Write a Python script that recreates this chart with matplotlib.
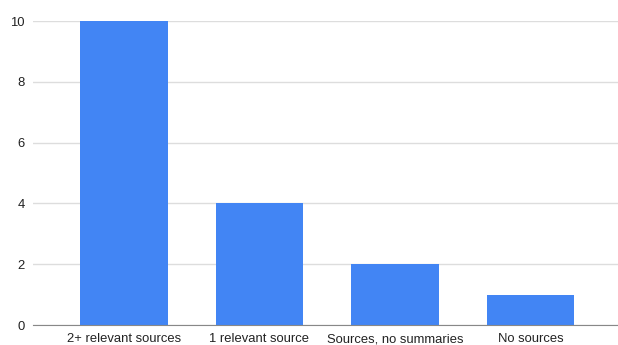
import matplotlib
matplotlib.use("Agg")
import matplotlib.pyplot as plt
import numpy as np

categories = ["2+ relevant sources", "1 relevant source", "Sources, no summaries", "No sources"]
counts = [10, 4, 2, 1]
yticks = [0, 2, 4, 6, 8, 10]

plt.rcParams["font.family"] = ["Liberation Sans", "DejaVu Sans"]

fig = plt.figure(figsize=(6.18, 3.45), dpi=100)
ax = fig.add_axes([33 / 618, 1 - 325 / 345, 1 - 33 / 618, (325 - 21) / 345])

x = np.arange(len(categories))
ax.bar(x, counts, width=0.645, color="#4285f4", zorder=3)

ax.set_xlim(-0.67, 3.645)
ax.set_ylim(0, 10)
ax.set_yticks(yticks)
ax.set_xticks(x)
ax.set_xticklabels(categories)
ax.tick_params(axis="both", length=0, labelsize=9.4, colors="#222222")
ax.tick_params(axis="y", pad=6)
ax.tick_params(axis="x", pad=6)
ax.grid(axis="y", color="#dddddd", linewidth=1, zorder=0)
for s in ("top", "right", "left"):
    ax.spines[s].set_visible(False)
ax.spines["bottom"].set_color("#888888")
ax.spines["bottom"].set_zorder(4)

fig.savefig("out.png", dpi=100)
